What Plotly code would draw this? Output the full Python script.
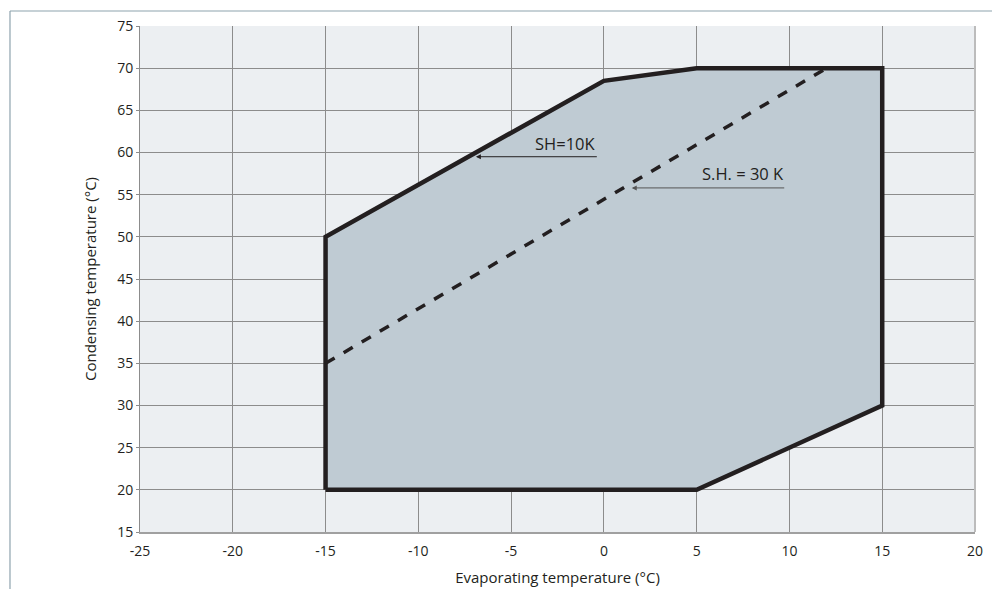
import plotly.graph_objects as go

# operating envelope (evaporating / condensing temperature, °C)
envelope_te = [-15, -15, 0, 5, 15, 15, 5, -15]
envelope_tc = [20, 50, 68.5, 70, 70, 30, 20, 20]

# superheat 30 K limit line
sh30_te = [-15, 12]
sh30_tc = [35, 70]

x_ticks = [-25, -20, -15, -10, -5, 0, 5, 10, 15, 20]
y_ticks = [15, 20, 25, 30, 35, 40, 45, 50, 55, 60, 65, 70, 75]

INK = '#231f20'
FONT = 'Open Sans, sans-serif'

fig = go.Figure()

fig.add_trace(go.Scatter(
    x=envelope_te, y=envelope_tc,
    mode='lines', fill='toself', fillcolor='#bfcbd3',
    line=dict(color=INK, width=4.5),
    hoverinfo='skip', showlegend=False
))

fig.add_trace(go.Scatter(
    x=sh30_te, y=sh30_tc,
    mode='lines',
    line=dict(color=INK, width=3.5, dash='dash'),
    hoverinfo='skip', showlegend=False
))

# arrows + labels
fig.add_annotation(x=-6.9, y=59.5, ax=-0.3, ay=59.5, xref='x', yref='y', axref='x', ayref='y',
                   text='', showarrow=True, arrowhead=2, arrowsize=1, arrowwidth=1, arrowcolor=INK)
fig.add_annotation(x=-0.3, y=59.5, xref='x', yref='y', text='SH=10K', showarrow=False,
                   xanchor='right', yanchor='bottom', font=dict(family=FONT, size=16.5, color=INK))
fig.add_annotation(x=1.5, y=55.8, ax=9.8, ay=55.8, xref='x', yref='y', axref='x', ayref='y',
                   text='', showarrow=True, arrowhead=2, arrowsize=1, arrowwidth=1, arrowcolor='#555555')
fig.add_annotation(x=9.8, y=55.9, xref='x', yref='y', text='S.H. = 30 K', showarrow=False,
                   xanchor='right', yanchor='bottom', font=dict(family=FONT, size=16.5, color=INK))

# outer frame (top and left edges)
frame = '#8ea3ad'
fig.add_shape(type='line', xref='paper', yref='paper', x0=-0.1557, x1=1.05, y0=1.0296, y1=1.0296,
              line=dict(color=frame, width=1.2))
fig.add_shape(type='line', xref='paper', yref='paper', x0=-0.1557, x1=-0.1557, y0=1.0296, y1=-0.14,
              line=dict(color=frame, width=1.2))

fig.update_xaxes(
    range=[-25, 20], tickvals=x_ticks, ticktext=[str(v) for v in x_ticks],
    showgrid=True, gridcolor='#8c8c8c', gridwidth=1,
    showline=True, linecolor='#a0a0a0', linewidth=2, mirror=False,
    zeroline=False, ticks='outside', ticklen=5, tickcolor='rgba(0,0,0,0)', automargin=False,
    tickfont=dict(family=FONT, size=14, color=INK),
    title=dict(text='Evaporating temperature (°C)', font=dict(family=FONT, size=15, color=INK), standoff=14)
)
fig.update_yaxes(
    range=[15, 75], tickvals=y_ticks,
    showgrid=True, gridcolor='#8c8c8c', gridwidth=1,
    showline=True, linecolor='#8c8c8c', linewidth=1,
    zeroline=False, ticks='outside', ticklen=3, tickcolor='#8c8c8c', automargin=False,
    tickfont=dict(family=FONT, size=14, color=INK),
    title=dict(text='Condensing temperature (°C)', font=dict(family=FONT, size=15, color=INK), standoff=16)
)

# right edge of the grid area
fig.add_shape(type='line', xref='paper', yref='paper', x0=1, x1=1, y0=0, y1=1,
              line=dict(color='#bcbcbc', width=2))

fig.update_layout(
    width=1000, height=589,
    margin=dict(l=132, r=33, t=18, b=65),
    paper_bgcolor='white', plot_bgcolor='#eceff2',
    font=dict(family=FONT, color=INK),
    showlegend=False
)

fig.write_html('out.html')
